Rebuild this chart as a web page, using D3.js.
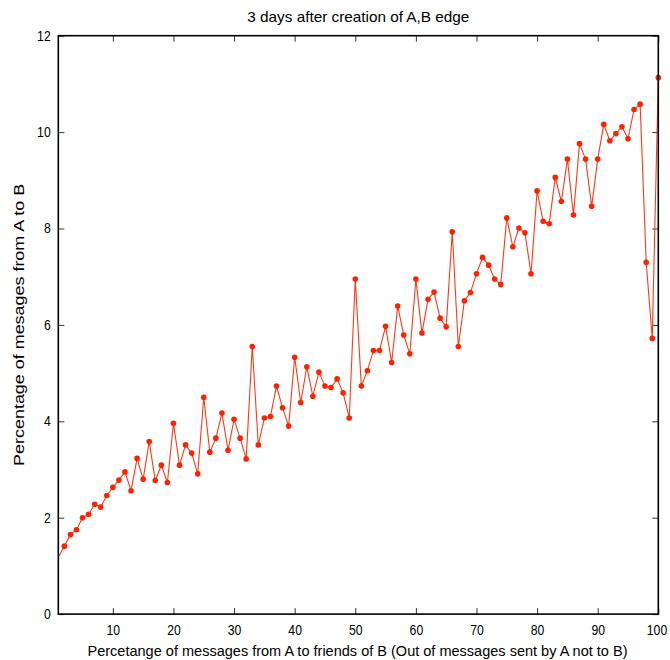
<!DOCTYPE html>
<html>
<head>
<meta charset="utf-8">
<script src="https://cdn.jsdelivr.net/npm/d3@7"></script>
<style>
  html, body { margin: 0; padding: 0; background: #fff; }
  svg { display: block; }
  text { font-family: "Liberation Sans", Arial, Helvetica, sans-serif; fill: #000; }
</style>
</head>
<body>
<svg id="chart" width="670" height="660"></svg>
<script>
// Share of A's messages (not to B) that went to friends of B, in percent
const xValues = d3.range(1, 101);
// Percentage of messages from A to B for each x
const yValues = [
  1.18, 1.41, 1.65, 1.75, 2.00, 2.07, 2.28, 2.22, 2.46, 2.63,
  2.78, 2.95, 2.56, 3.23, 2.80, 3.58, 2.77, 3.09, 2.73, 3.96,
  3.09, 3.51, 3.34, 2.91, 4.50, 3.36, 3.65, 4.17, 3.40, 4.04,
  3.65, 3.22, 5.55, 3.51, 4.07, 4.10, 4.73, 4.28, 3.90, 5.33,
  4.39, 5.13, 4.52, 5.02, 4.73, 4.70, 4.88, 4.59, 4.07, 6.95,
  4.73, 5.05, 5.47, 5.47, 5.97, 5.22, 6.39, 5.79, 5.40, 6.95,
  5.83, 6.53, 6.68, 6.14, 5.96, 7.93, 5.55, 6.50, 6.67, 7.06,
  7.40, 7.24, 6.95, 6.84, 8.22, 7.62, 8.01, 7.91, 7.06, 8.78,
  8.15, 8.10, 9.06, 8.56, 9.44, 8.28, 9.76, 9.44, 8.46, 9.44,
  10.16, 9.82, 9.97, 10.11, 9.86, 10.47, 10.58, 7.30, 5.72, 11.13
];
const xTicks = [10, 20, 30, 40, 50, 60, 70, 80, 90, 100];
const yTicks = [0, 2, 4, 6, 8, 10, 12];

const titleText = "3 days after creation of A,B edge";
const xLabelText = "Percetange of messages from A to friends of B (Out of messages sent by A not to B)";
const yLabelText = "Percentage of mesages from A to B";

const data = xValues.map((x, i) => ({ x, y: yValues[i] }));

const margin = { left: 58.3, right: 11.7, top: 35.7, bottom: 45.9 };
const W = 670, H = 660;
const iw = W - margin.left - margin.right;
const ih = H - margin.top - margin.bottom;

const svg = d3.select("#chart");
const g = svg.append("g").attr("transform", `translate(${margin.left},${margin.top})`);

const x = d3.scaleLinear().domain([1, 100]).range([0, iw]);
const y = d3.scaleLinear().domain([0, 12]).range([ih, 0]);

const tickLen = 6;
const fontSize = 14;
const digitWidth = 6.8; // narrow, tall numerals

// Bottom axis with labels, inward ticks
const xAxis = g.append("g").attr("transform", `translate(0,${ih})`)
  .call(d3.axisBottom(x).tickValues(xTicks).tickSizeInner(-tickLen).tickSizeOuter(0).tickPadding(10.5));
// Left axis with labels, inward ticks
const yAxis = g.append("g")
  .call(d3.axisLeft(y).tickValues(yTicks).tickSizeInner(-tickLen).tickSizeOuter(0).tickPadding(7.6));
// Mirrored ticks on top and right
const xTop = g.append("g")
  .call(d3.axisTop(x).tickValues(xTicks).tickSizeInner(-tickLen).tickSizeOuter(0).tickFormat(""));
const yRight = g.append("g").attr("transform", `translate(${iw},0)`)
  .call(d3.axisRight(y).tickValues(yTicks).tickSizeInner(-tickLen).tickSizeOuter(0).tickFormat(""));

[xAxis, yAxis, xTop, yRight].forEach(a => {
  a.select(".domain").remove();
  a.selectAll(".tick line").attr("stroke", "#333").attr("stroke-width", 1);
});
[xAxis, yAxis].forEach(a => {
  a.selectAll(".tick text")
    .attr("font-size", fontSize)
    .attr("font-family", "Liberation Sans, Arial, sans-serif")
    .attr("fill", "#000")
    .attr("textLength", d => String(d).length * digitWidth)
    .attr("lengthAdjust", "spacingAndGlyphs");
});
// Keep the last x label inside the page edge
xAxis.selectAll(".tick text").filter(d => d === 100).attr("dx", -1.8);

// Data line
const line = d3.line().x(d => x(d.x)).y(d => y(d.y));
g.append("path")
  .datum(data)
  .attr("fill", "none")
  .attr("stroke", "#ff3a1a")
  .attr("stroke-width", 1.1)
  .attr("d", line);

// Point markers (a point sitting on the left border is clipped away)
g.append("g").selectAll("circle")
  .data(data.filter(d => d.x > x.domain()[0]))
  .join("circle")
  .attr("cx", d => x(d.x))
  .attr("cy", d => y(d.y))
  .attr("r", 2.8)
  .attr("fill", "#ff2200");

// Plot frame
g.append("rect")
  .attr("x", 0).attr("y", 0).attr("width", iw).attr("height", ih)
  .attr("fill", "none").attr("stroke", "#000").attr("stroke-width", 1.6);

// Title
svg.append("text")
  .attr("x", margin.left + iw / 2).attr("y", 22)
  .attr("text-anchor", "middle").attr("font-size", 14.5)
  .attr("textLength", 222).attr("lengthAdjust", "spacingAndGlyphs")
  .text(titleText);

// X axis title
svg.append("text")
  .attr("x", 357.5).attr("y", 655.7)
  .attr("text-anchor", "middle").attr("font-size", 15)
  .attr("textLength", 540).attr("lengthAdjust", "spacingAndGlyphs")
  .text(xLabelText);

// Y axis title
svg.append("text")
  .attr("transform", `translate(24,${margin.top + ih / 2}) rotate(-90)`)
  .attr("text-anchor", "middle").attr("font-size", 15)
  .attr("textLength", 282).attr("lengthAdjust", "spacingAndGlyphs")
  .text(yLabelText);
</script>
</body>
</html>
